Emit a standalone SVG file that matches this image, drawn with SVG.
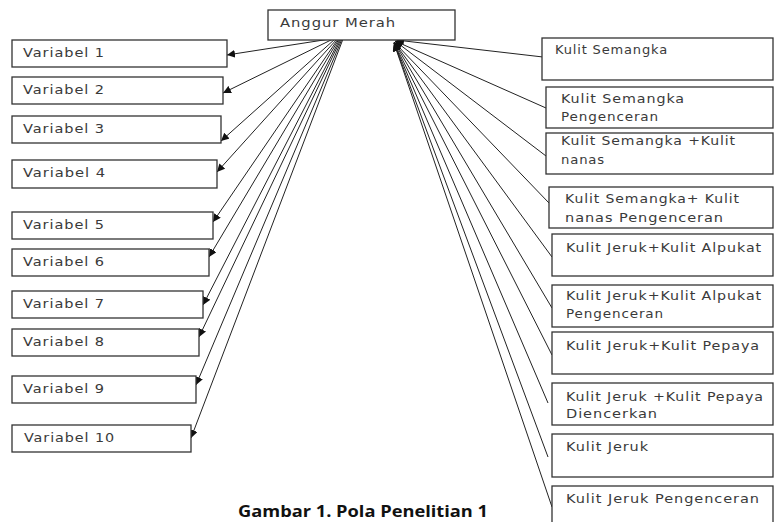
<svg xmlns="http://www.w3.org/2000/svg" width="774" height="522" viewBox="0 0 774 522">
<style>
.box{fill:#fff;stroke:#333;stroke-width:1.3}
.t{font-family:"DejaVu Sans",sans-serif;font-size:12.5px;letter-spacing:0.8px;fill:#3a3a3a}
.c{stroke:#222;stroke-width:1;fill:none;marker-end:url(#ah)}
.cap{font-family:"Open Sans","Noto Sans",sans-serif;font-size:16px;font-weight:bold;fill:#111}
</style>
<defs>
<marker id="ah" markerUnits="userSpaceOnUse" markerWidth="9" markerHeight="8" refX="8" refY="4" orient="auto">
<path d="M0,0 L8,4 L0,8 Z" fill="#111"/>
</marker>
</defs>
<rect width="774" height="522" fill="#fff"/>
<g id="connectors">
<line class="c" x1="330" y1="39" x2="227" y2="55"/>
<line class="c" x1="333" y1="39" x2="223" y2="93"/>
<line class="c" x1="335" y1="39" x2="221" y2="141"/>
<line class="c" x1="337" y1="39" x2="217" y2="172"/>
<line class="c" x1="338" y1="39" x2="213" y2="222"/>
<line class="c" x1="339" y1="39" x2="209" y2="257"/>
<line class="c" x1="340" y1="39" x2="203" y2="305"/>
<line class="c" x1="341" y1="39" x2="199" y2="337"/>
<line class="c" x1="342" y1="39" x2="196" y2="385"/>
<line class="c" x1="343" y1="39" x2="191" y2="438"/>
<line class="c" x1="543" y1="57" x2="396" y2="40"/>
<line class="c" x1="546" y1="108" x2="395" y2="41"/>
<line class="c" x1="546" y1="156" x2="395" y2="41"/>
<line class="c" x1="549" y1="203" x2="394" y2="42"/>
<line class="c" x1="552" y1="257" x2="394" y2="42"/>
<line class="c" x1="552" y1="308" x2="394" y2="42"/>
<line class="c" x1="552" y1="355" x2="394" y2="43"/>
<line class="c" x1="548" y1="403" x2="394" y2="43"/>
<line class="c" x1="548" y1="457" x2="394" y2="43"/>
<line class="c" x1="552" y1="507" x2="394" y2="43"/>
</g>
<g id="anggur-merah"><rect class="box" x="268" y="10" width="187" height="30"/><text class="t" x="280" y="27" textLength="116" lengthAdjust="spacingAndGlyphs">Anggur Merah</text></g>
<g id="v1"><rect class="box" x="12" y="40" width="215" height="27"/><text class="t" x="23" y="57" textLength="82" lengthAdjust="spacingAndGlyphs">Variabel 1</text></g>
<g id="v2"><rect class="box" x="12" y="77" width="211" height="27"/><text class="t" x="23" y="94" textLength="82" lengthAdjust="spacingAndGlyphs">Variabel 2</text></g>
<g id="v3"><rect class="box" x="12" y="116" width="209" height="27"/><text class="t" x="23" y="133" textLength="82" lengthAdjust="spacingAndGlyphs">Variabel 3</text></g>
<g id="v4"><rect class="box" x="12" y="160" width="205" height="28"/><text class="t" x="23" y="177" textLength="83" lengthAdjust="spacingAndGlyphs">Variabel 4</text></g>
<g id="v5"><rect class="box" x="12" y="212" width="201" height="27"/><text class="t" x="23" y="229" textLength="82" lengthAdjust="spacingAndGlyphs">Variabel 5</text></g>
<g id="v6"><rect class="box" x="12" y="249" width="197" height="27"/><text class="t" x="23" y="266" textLength="82" lengthAdjust="spacingAndGlyphs">Variabel 6</text></g>
<g id="v7"><rect class="box" x="12" y="291" width="191" height="27"/><text class="t" x="23" y="308" textLength="82" lengthAdjust="spacingAndGlyphs">Variabel 7</text></g>
<g id="v8"><rect class="box" x="12" y="329" width="187" height="27"/><text class="t" x="23" y="346" textLength="82" lengthAdjust="spacingAndGlyphs">Variabel 8</text></g>
<g id="v9"><rect class="box" x="12" y="376" width="184" height="27"/><text class="t" x="23" y="393" textLength="82" lengthAdjust="spacingAndGlyphs">Variabel 9</text></g>
<g id="v10"><rect class="box" x="12" y="425" width="179" height="27"/><text class="t" x="24" y="442" textLength="91" lengthAdjust="spacingAndGlyphs">Variabel 10</text></g>
<g id="ks"><rect class="box" x="542" y="38" width="231" height="42"/><text class="t" x="555" y="54" textLength="113" lengthAdjust="spacingAndGlyphs">Kulit Semangka</text></g>
<g id="ksp"><rect class="box" x="546" y="87" width="227" height="41"/><text class="t" x="561" y="103" textLength="124" lengthAdjust="spacingAndGlyphs">Kulit Semangka</text><text class="t" x="561" y="121" textLength="98" lengthAdjust="spacingAndGlyphs">Pengenceran</text></g>
<g id="ksn"><rect class="box" x="546" y="133" width="227" height="41"/><text class="t" x="561" y="145" textLength="175" lengthAdjust="spacingAndGlyphs">Kulit Semangka +Kulit</text><text class="t" x="561" y="164" textLength="44" lengthAdjust="spacingAndGlyphs">nanas</text></g>
<g id="ksnp"><rect class="box" x="549" y="187" width="224" height="41"/><text class="t" x="565" y="203" textLength="175" lengthAdjust="spacingAndGlyphs">Kulit Semangka+ Kulit</text><text class="t" x="565" y="222" textLength="159" lengthAdjust="spacingAndGlyphs">nanas Pengenceran</text></g>
<g id="kja"><rect class="box" x="552" y="234" width="221" height="42"/><text class="t" x="566" y="252" textLength="196" lengthAdjust="spacingAndGlyphs">Kulit Jeruk+Kulit Alpukat</text></g>
<g id="kjap"><rect class="box" x="552" y="285" width="221" height="42"/><text class="t" x="566" y="300" textLength="196" lengthAdjust="spacingAndGlyphs">Kulit Jeruk+Kulit Alpukat</text><text class="t" x="566" y="318" textLength="98" lengthAdjust="spacingAndGlyphs">Pengenceran</text></g>
<g id="kjp"><rect class="box" x="552" y="332" width="221" height="42"/><text class="t" x="566" y="350" textLength="194" lengthAdjust="spacingAndGlyphs">Kulit Jeruk+Kulit Pepaya</text></g>
<g id="kjpd"><rect class="box" x="552" y="383" width="221" height="42"/><text class="t" x="566" y="401" textLength="198" lengthAdjust="spacingAndGlyphs">Kulit Jeruk +Kulit Pepaya</text><text class="t" x="566" y="418" textLength="92" lengthAdjust="spacingAndGlyphs">Diencerkan</text></g>
<g id="kj"><rect class="box" x="552" y="434" width="221" height="43"/><text class="t" x="566" y="451" textLength="83" lengthAdjust="spacingAndGlyphs">Kulit Jeruk</text></g>
<g id="kjpeng"><rect class="box" x="552" y="486" width="221" height="50"/><text class="t" x="566" y="503" textLength="194" lengthAdjust="spacingAndGlyphs">Kulit Jeruk Pengenceran</text></g>
<text class="cap" x="238" y="517" textLength="250" lengthAdjust="spacingAndGlyphs">Gambar 1. Pola Penelitian 1</text>
</svg>
